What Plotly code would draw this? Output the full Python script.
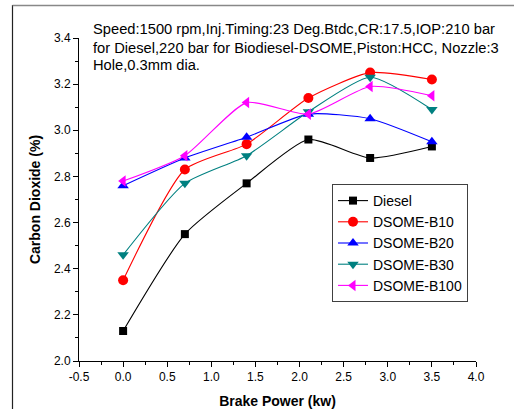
import plotly.graph_objects as go

brake_power = [0.0, 0.7, 1.4, 2.1, 2.8, 3.5]
diesel = [2.13, 2.55, 2.77, 2.96, 2.88, 2.93]
b10 = [2.35, 2.83, 2.94, 3.14, 3.25, 3.22]
b20 = [2.76, 2.88, 2.97, 3.07, 3.05, 2.95]
b30 = [2.46, 2.77, 2.89, 3.08, 3.23, 3.09]
b100 = [2.78, 2.89, 3.12, 3.07, 3.19, 3.15]

series_names = ["Diesel", "DSOME-B10", "DSOME-B20", "DSOME-B30", "DSOME-B100"]
series_values = [diesel, b10, b20, b30, b100]
colors = ["#000000", "#FF0000", "#0000FF", "#008080", "#FF00FF"]
symbols = ["square", "circle", "triangle-up", "triangle-down", "triangle-left"]

note_lines = [
    "Speed:1500 rpm,Inj.Timing:23 Deg.Btdc,CR:17.5,IOP:210 bar",
    "for Diesel,220 bar for Biodiesel-DSOME,Piston:HCC, Nozzle:3",
    "Hole,0.3mm dia.",
]

fig = go.Figure()
for name, vals, c, s in zip(series_names, series_values, colors, symbols):
    fig.add_trace(go.Scatter(
        x=brake_power, y=vals, name=name, mode="lines+markers",
        line=dict(color=c, width=1.1, shape="spline", smoothing=0.6),
        marker=dict(color=c, symbol=s, size=10 if s != "square" else 8),
    ))

L, R, T, B = 79, 38, 38, 48
W, H = 514, 409
pw, ph = W - L - R, H - T - B

def px(xpix):
    return (xpix - L) / pw

def py(ypix):
    return 1 - (ypix - T) / ph

note_y = [29.5, 47.5, 65]
annotations = [dict(
    xref="paper", yref="paper", x=px(91), y=py(yc), xanchor="left", yanchor="middle",
    align="left", showarrow=False, text=t,
    font=dict(size=14.7, color="#000000"),
) for t, yc in zip(note_lines, note_y)]

fig.update_layout(
    width=W, height=H,
    margin=dict(l=L, r=R, t=T, b=B, autoexpand=False),
    paper_bgcolor="white", plot_bgcolor="white",
    font=dict(family="Liberation Sans, Arial", color="#000000", size=11),
    showlegend=True,
    legend=dict(
        x=px(332), y=py(184), xanchor="left", yanchor="top",
        bordercolor="#404040", borderwidth=1, bgcolor="white",
        font=dict(size=14), tracegroupgap=0, itemwidth=30,
    ),
    xaxis=dict(
        range=[-0.5, 4.0], tickmode="array",
        tickvals=[-0.5, 0, 0.5, 1.0, 1.5, 2.0, 2.5, 3.0, 3.5, 4.0],
        ticktext=["-0.5", "0.0", "0.5", "1.0", "1.5", "2.0", "2.5", "3.0", "3.5", "4.0"],
        showgrid=False, zeroline=False, showline=True, linecolor="black", linewidth=1,
        ticks="outside", ticklen=5, tickcolor="black",
        minor=dict(ticks="outside", ticklen=3, dtick=0.25, tick0=0, tickcolor="black"),
        title=dict(text="<b>Brake Power (kw)</b>", font=dict(size=14), standoff=12),
        tickfont=dict(size=12),
    ),
    yaxis=dict(
        range=[2.0, 3.4], tickmode="array",
        tickvals=[2.0, 2.2, 2.4, 2.6, 2.8, 3.0, 3.2, 3.4],
        ticktext=["2.0", "2.2", "2.4", "2.6", "2.8", "3.0", "3.2", "3.4"],
        showgrid=False, zeroline=False, showline=True, linecolor="black", linewidth=1,
        ticks="outside", ticklen=5, tickcolor="black",
        minor=dict(ticks="outside", ticklen=3, dtick=0.1, tick0=0, tickcolor="black"),
        title=dict(text="<b>Carbon Dioxide (%)</b>", font=dict(size=14), standoff=10),
        tickfont=dict(size=12),
    ),
    annotations=annotations,
    shapes=[
        dict(type="line", xref="paper", yref="paper", x0=px(12.5), x1=px(12.5), y0=py(5), y1=py(409),
             line=dict(color="#222222", width=1.2)),
        dict(type="line", xref="paper", yref="paper", x0=px(12.5), x1=px(514), y0=py(5.5), y1=py(5.5),
             line=dict(color="#888888", width=1.5)),
    ],
)

fig.write_html("out.html", config={"displayModeBar": False},
               post_script="document.body.style.margin='0';document.body.style.overflow='hidden';")
